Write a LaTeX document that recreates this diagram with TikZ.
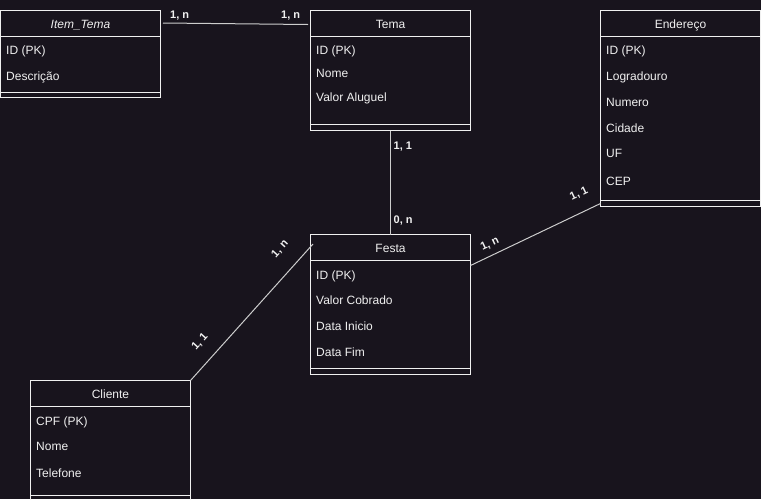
\documentclass[tikz,border=0pt]{standalone}
\usepackage{fontspec}
\setmainfont{Liberation Sans}
\definecolor{bg}{RGB}{24,20,29}
\definecolor{ink}{RGB}{240,240,240}
\definecolor{wire}{RGB}{205,205,205}
\tikzset{
  entity/.style={draw=ink, line width=1pt, inner sep=0pt, outer sep=0pt, anchor=north west},
  rule/.style={draw=ink, line width=1pt},
  title/.style={text=ink, font=\fontsize{12}{14}\selectfont, anchor=base, inner sep=0pt},
  field/.style={text=ink, font=\fontsize{12}{14}\selectfont, anchor=base west, inner sep=0pt},
  card/.style={text=ink, font=\fontsize{11}{13}\selectfont\bfseries, inner sep=0pt},
  link/.style={draw=wire, line width=1pt},
}
\begin{document}
\begin{tikzpicture}[x=1pt, y=-1pt]
\useasboundingbox (0,0) rectangle (761,499);
\fill[bg] (0,0) rectangle (761,499);

% ---- Item_Tema ----
\node[entity, minimum width=160pt, minimum height=87pt] (itemtema) at (0.5,10.5) {};
\draw[rule] ([yshift=-26pt]itemtema.north west) -- ([yshift=-26pt]itemtema.north east);
\draw[rule] ([yshift=5.5pt]itemtema.south west) -- ([yshift=5.5pt]itemtema.south east);
\node[title] (itemtemaT) at (80.5,28.5) {\itshape Item\_Tema};
\node[field] (itemtemaA) at (6,54) {ID (PK)};
\node[field] (itemtemaB) at (6,80) {Descrição};

% ---- Tema ----
\node[entity, minimum width=160pt, minimum height=120pt] (tema) at (310.5,10.5) {};
\draw[rule] ([yshift=-26pt]tema.north west) -- ([yshift=-26pt]tema.north east);
\draw[rule] ([yshift=6pt]tema.south west) -- ([yshift=6pt]tema.south east);
\node[title] (temaT) at (390.5,28.5) {Tema};
\node[field] (temaA) at (316,54) {ID (PK)};
\node[field] (temaB) at (316,77.5) {Nome};
\node[field] (temaC) at (316,101.5) {Valor Aluguel};

% ---- Endereço ----
\node[entity, minimum width=160pt, minimum height=196pt] (endereco) at (600.5,10.5) {};
\draw[rule] ([yshift=-26pt]endereco.north west) -- ([yshift=-26pt]endereco.north east);
\draw[rule] ([yshift=6pt]endereco.south west) -- ([yshift=6pt]endereco.south east);
\node[title] (enderecoT) at (680.5,28.5) {Endereço};
\node[field] (enderecoA) at (606,54) {ID (PK)};
\node[field] (enderecoB) at (606,80) {Logradouro};
\node[field] (enderecoC) at (606,106) {Numero};
\node[field] (enderecoD) at (606,132) {Cidade};
\node[field] (enderecoE) at (606,157.5) {UF};
\node[field] (enderecoF) at (606,185) {CEP};

% ---- Festa ----
\node[entity, minimum width=160pt, minimum height=140pt] (festa) at (310.5,234.5) {};
\draw[rule] ([yshift=-26pt]festa.north west) -- ([yshift=-26pt]festa.north east);
\draw[rule] ([yshift=6pt]festa.south west) -- ([yshift=6pt]festa.south east);
\node[title] (festaT) at (390.5,252) {Festa};
\node[field] (festaA) at (316,279) {ID (PK)};
\node[field] (festaB) at (316,304.5) {Valor Cobrado};
\node[field] (festaC) at (316,330) {Data Inicio};
\node[field] (festaD) at (316,356) {Data Fim};

% ---- Cliente ----
\node[entity, minimum width=160pt, minimum height=121pt] (cliente) at (30.5,380.5) {};
\draw[rule] ([yshift=-26pt]cliente.north west) -- ([yshift=-26pt]cliente.north east);
\draw[rule] ([yshift=6pt]cliente.south west) -- ([yshift=6pt]cliente.south east);
\node[title] (clienteT) at (110.5,398.5) {Cliente};
\node[field] (clienteA) at (36,425) {CPF (PK)};
\node[field] (clienteB) at (36,450.5) {Nome};
\node[field] (clienteC) at (36,477) {Telefone};

% ---- relationships ----
\draw[link] ([shift={(2.5,12.5)}]itemtema.north east) -- ([shift={(-2.5,14)}]tema.north west);
\draw[link] (tema.south) -- (festa.north);
\draw[link] (cliente.north east) -- ([shift={(2.5,9.5)}]festa.north west);
\draw[link] ([shift={(0,31)}]festa.north east) -- ([shift={(0,-3)}]endereco.south west);

% ---- cardinalities ----
\node[card, anchor=base west] (c1) at (170,18.5) {1, n};
\node[card, anchor=base west] (c2) at (281,18.5) {1, n};
\node[card, anchor=base west] (c3) at (393.5,149) {1, 1};
\node[card, anchor=base west] (c4) at (393.5,223) {0, n};
\node[card, rotate=48] (c5) at (280,249) {1, n};
\node[card, rotate=48] (c6) at (200,342) {1, 1};
\node[card, rotate=25.5] (c7) at (490,244) {1, n};
\node[card, rotate=25.5] (c8) at (579,194) {1, 1};
\end{tikzpicture}
\end{document}
